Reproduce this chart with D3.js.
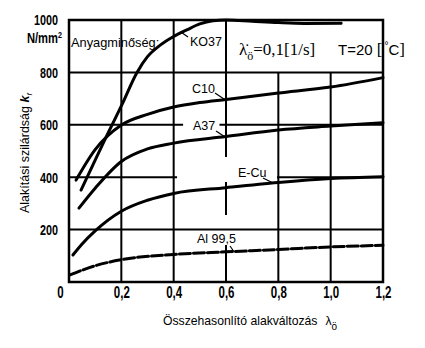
<!DOCTYPE html>
<html>
<head>
<meta charset="utf-8">
<script src="https://cdn.jsdelivr.net/npm/d3@7"></script>
<style>
  body { margin: 0; background: #fff; }
  svg { display: block; }
  text { fill: #000; }
</style>
</head>
<body>
<svg id="chart" width="425" height="348"></svg>
<script>
// Flow stress k_f [N/mm²] versus equivalent strain λ_ö, strain rate 0.1 1/s, T = 20 °C
const xTicks = [0, 0.2, 0.4, 0.6, 0.8, 1.0, 1.2];
const yTicks = [200, 400, 600, 800, 1000];
const materials = ["KO37", "C10", "A37", "E-Cu", "Al 99,5"];

const ko37Strain = [0.046, 0.1, 0.15, 0.2, 0.26, 0.3, 0.35, 0.4, 0.45, 0.5, 0.55, 0.6, 0.7, 0.8, 0.9, 1.04];
const ko37Stress = [351, 465, 570, 672, 800, 860, 905, 937, 962, 985, 997, 1000, 995, 990, 987, 988];

const c10Strain = [0.027, 0.1, 0.2, 0.3, 0.4, 0.5, 0.6, 0.8, 1.0, 1.2];
const c10Stress = [389, 505, 599, 640, 668, 685, 697, 721, 744, 780];

const a37Strain = [0.038, 0.1, 0.2, 0.3, 0.4, 0.6, 0.8, 1.0, 1.2];
const a37Stress = [282, 358, 460, 508, 530, 555, 580, 595, 608];

const ecuStrain = [0.015, 0.05, 0.1, 0.2, 0.3, 0.4, 0.6, 0.8, 1.0, 1.2];
const ecuStress = [103, 145, 195, 270, 312, 338, 360, 380, 395, 402];

const alStrain = [0.004, 0.1, 0.2, 0.4, 0.6, 0.8, 1.0, 1.2];
const alStress = [27, 62, 85, 105, 115, 124, 134, 140];

const series = [
  { name: materials[0], xs: ko37Strain, ys: ko37Stress },
  { name: materials[1], xs: c10Strain, ys: c10Stress },
  { name: materials[2], xs: a37Strain, ys: a37Stress },
  { name: materials[3], xs: ecuStrain, ys: ecuStress },
  { name: materials[4], xs: alStrain, ys: alStress }
];

const svg = d3.select("#chart");
const plot = { left: 69, right: 383, top: 20, bottom: 282 };

const x = d3.scaleLinear().domain([0, 1.2]).range([plot.left, plot.right]);
const y = d3.scaleLinear().domain([0, 1000]).range([plot.bottom, plot.top]);

const tickFont = "'Liberation Sans', Arial, sans-serif";
const labelFont = "'Liberation Sans', Arial, sans-serif";
const serifFont = "'Liberation Serif', 'Times New Roman', serif";
const squeeze = 0.72; // horizontal compression of the condensed tick lettering

// grid: segments of each line, in data units (the drawing leaves gaps around labels)
const hGrid = [
  { v: 200, spans: [[0, 1.2]] },
  { v: 400, spans: [[0, 0.413], [0.795, 1.2]] },
  { v: 600, spans: [[0, 0.436], [0.575, 1.2]] },
  { v: 800, spans: [[0, 1.2]] }
];
const vGrid = [
  { v: 0.2, spans: [[0, 1000]] },
  { v: 0.4, spans: [[0, 1000]] },
  { v: 0.6, spans: [[0, 141], [256, 382], [477, 1000]] },
  { v: 0.8, spans: [[0, 800]] },
  { v: 1.0, spans: [[0, 800]] }
];

const grid = svg.append("g").attr("stroke", "#000").attr("stroke-width", 2);
hGrid.forEach(g => g.spans.forEach(s => {
  grid.append("line")
    .attr("x1", x(s[0])).attr("x2", x(s[1]))
    .attr("y1", y(g.v)).attr("y2", y(g.v));
}));
vGrid.forEach(g => g.spans.forEach(s => {
  grid.append("line")
    .attr("x1", x(g.v)).attr("x2", x(g.v))
    .attr("y1", y(s[0])).attr("y2", y(s[1]));
}));

// frame
svg.append("rect")
  .attr("x", x(0)).attr("y", y(1000))
  .attr("width", x(1.2) - x(0)).attr("height", y(0) - y(1000))
  .attr("fill", "none").attr("stroke", "#000").attr("stroke-width", 2.5);

// curves
const line = d3.line()
  .x(d => x(d[0]))
  .y(d => y(d[1]))
  .curve(d3.curveMonotoneX);

series.forEach(s => {
  const pts = s.xs.map((v, i) => [v, s.ys[i]]);
  svg.append("path")
    .datum(pts)
    .attr("d", line)
    .attr("fill", "none")
    .attr("stroke", "#000")
    .attr("stroke-width", 3)
    .attr("stroke-linecap", "round")
    .attr("stroke-dasharray", s.name === "Al 99,5" ? "11 3" : null);
});

// axes (tick labels only)
const fmt = d => d === 0 ? "0" : d3.format(".1f")(d).replace(".", ",");
const xAxis = svg.append("g")
  .attr("transform", `translate(0,${plot.bottom})`)
  .call(d3.axisBottom(x).tickValues(xTicks).tickSize(0).tickPadding(5).tickFormat(fmt));
xAxis.select(".domain").remove();
xAxis.selectAll("text")
  .attr("font-family", tickFont).attr("font-weight", "bold").attr("font-size", 16)
  .attr("transform", d => `translate(${d === 0 ? -9 : 0},0) scale(${squeeze},1)`);

const yAxis = svg.append("g")
  .attr("transform", `translate(${plot.left},0)`)
  .call(d3.axisLeft(y).tickValues(yTicks).tickSize(0).tickPadding(0).tickFormat(d3.format("d")));
yAxis.select(".domain").remove();
yAxis.selectAll("text")
  .attr("x", 0)
  .attr("font-family", tickFont).attr("font-weight", "bold").attr("font-size", 15)
  .attr("transform", `translate(-11,0) scale(${squeeze},1)`);

// unit under the top tick
const unit = svg.append("text")
  .attr("transform", `translate(62,43) scale(${squeeze + 0.08},1)`)
  .attr("text-anchor", "end")
  .attr("font-family", tickFont).attr("font-weight", "bold").attr("font-size", 14);
unit.append("tspan").text("N/mm");
unit.append("tspan").attr("font-size", 9).attr("dy", -5).text("2");

// axis titles
const yTitle = svg.append("text")
  .attr("transform", "translate(29,213) rotate(-90)")
  .attr("font-family", labelFont).attr("font-size", 12.5);
yTitle.append("tspan").text("Alakítási szilárdság ");
yTitle.append("tspan").attr("font-style", "italic").attr("font-weight", "bold").text("k");
yTitle.append("tspan").attr("font-size", 8).attr("dy", 3).attr("font-style", "italic").text("f");

const xTitle = svg.append("text")
  .attr("x", 163).attr("y", 325)
  .attr("font-family", labelFont).attr("font-size", 12.2);
xTitle.append("tspan").text("Összehasonlító alakváltozás");
xTitle.append("tspan").attr("dx", 8).text("λ");
xTitle.append("tspan").attr("font-size", 10).attr("dy", 5).text("ö");

// header texts inside the frame
svg.append("text")
  .attr("x", 71).attr("y", 47)
  .attr("font-family", labelFont).attr("font-size", 12.8)
  .text("Anyagminőség:");

const rate = svg.append("text")
  .attr("x", 239).attr("y", 55)
  .attr("font-family", serifFont).attr("font-size", 17);
rate.append("tspan").text("λ\u0307");
rate.append("tspan").attr("font-size", 12).attr("dy", 5).text("ö");
rate.append("tspan").attr("dy", -5).text("=0,1[1/s]");

const temp = svg.append("text")
  .attr("x", 338).attr("y", 55)
  .attr("font-family", labelFont).attr("font-size", 15);
temp.append("tspan").text("T=20 ");
temp.append("tspan").attr("font-family", serifFont).attr("font-size", 17).text("[");
temp.append("tspan").attr("font-size", 10).attr("dy", -6).attr("dx", 2).text("°");
temp.append("tspan").attr("dy", 6).text("C");
temp.append("tspan").attr("font-family", serifFont).attr("font-size", 17).text("]");

// curve names with leader lines to the curves
function stressAt(s, v) {
  const i = d3.bisectLeft(s.xs, v);
  const x0 = s.xs[i - 1], x1 = s.xs[i];
  const t = (v - x0) / (x1 - x0);
  return s.ys[i - 1] + t * (s.ys[i] - s.ys[i - 1]);
}
const labels = [
  { s: series[0], tx: 190, ty: 46, lx: 188, ly: 37, at: 0.43 },
  { s: series[1], tx: 192, ty: 93, lx: 215, ly: 93, at: 0.595 },
  { s: series[2], tx: 193, ty: 130, lx: 216, ly: 131, at: 0.595 },
  { s: series[3], tx: 238, ty: 177, lx: 263, ly: 178, at: 0.78 },
  { s: series[4], tx: 197, ty: 243, lx: 230, ly: 246, at: 0.63 }
];
labels.forEach(l => {
  svg.append("text")
    .attr("x", l.tx).attr("y", l.ty)
    .attr("font-family", labelFont).attr("font-size", 12.5)
    .text(l.s.name);
  svg.append("line")
    .attr("x1", l.lx).attr("y1", l.ly)
    .attr("x2", x(l.at)).attr("y2", y(stressAt(l.s, l.at)))
    .attr("stroke", "#000").attr("stroke-width", 1.2);
});
</script>
</body>
</html>
